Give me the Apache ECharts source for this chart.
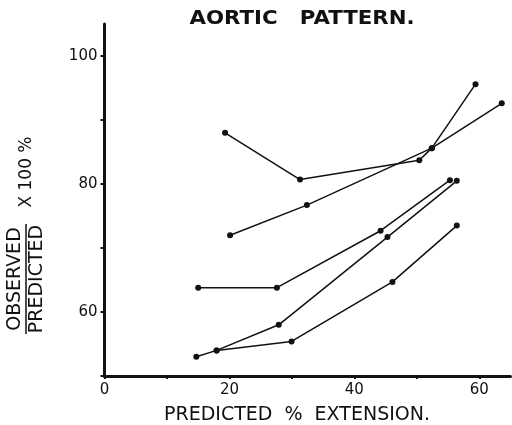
<!DOCTYPE html>
<html>
<head>
<meta charset="utf-8">
<script src="https://cdn.jsdelivr.net/npm/echarts@6/dist/echarts.min.js"></script>
<style>
  html, body { margin: 0; padding: 0; background: #fff; }
  #chart { width: 512px; height: 425px; }
</style>
</head>
<body>
<div id="chart"></div>
<script>
// Predicted % extension (x) vs observed/predicted x 100 % (y), one array per curve
const curveA = [[19.3, 88.0], [31.3, 80.7], [50.4, 83.7], [52.4, 85.6], [59.4, 95.6]];
const curveB = [[20.1, 72.0], [32.4, 76.7], [52.4, 85.6], [63.6, 92.6]];
const curveC = [[15.0, 63.8], [27.6, 63.8], [44.2, 72.7], [55.3, 80.6]];
const curveD = [[14.7, 53.0], [17.95, 54.0], [27.9, 58.0], [45.3, 71.7], [56.4, 80.5]];
const curveE = [[17.95, 54.0], [29.95, 55.4], [46.1, 64.7], [56.4, 73.5]];

const xTickLabels = [0, 20, 40, 60];
const yTickLabels = [60, 80, 100];

const titleText = 'AORTIC   PATTERN.';
const xName = 'PREDICTED  %  EXTENSION.';
const yNameTop = 'OBSERVED';
const yNameBottom = 'PREDICTED';
const yNameFactor = 'X 100 %';

const FONT = 'DejaVu Sans';
const INK = '#111';

const chart = echarts.init(document.getElementById('chart'), null, { renderer: 'canvas' });

function lineSeries(data) {
  return {
    type: 'line',
    data: data,
    symbol: 'circle',
    symbolSize: 6,
    lineStyle: { color: INK, width: 1.5 },
    itemStyle: { color: INK },
    silent: true,
    animation: false
  };
}

chart.setOption({
  backgroundColor: '#fff',
  animation: false,
  grid: { left: 104.5, right: 1.5, top: 24, bottom: 49, containLabel: false },
  xAxis: {
    type: 'value',
    min: 0, max: 65, interval: 10,
    splitLine: { show: false },
    axisLine: { lineStyle: { color: INK, width: 3 } },
    axisTick: { show: true, length: 3, lineStyle: { color: INK, width: 2 } },
    axisLabel: {
      margin: 7,
      color: INK, fontFamily: FONT, fontSize: 15,
      showMaxLabel: false,
      formatter: v => (xTickLabels.indexOf(v) >= 0 ? String(v) : '')
    }
  },
  yAxis: {
    type: 'value',
    min: 50, max: 105, interval: 10,
    splitLine: { show: false },
    axisLine: { onZero: false, lineStyle: { color: INK, width: 3 } },
    axisTick: { show: true, length: 4, lineStyle: { color: INK, width: 2 } },
    axisLabel: {
      margin: 7,
      color: INK, fontFamily: FONT, fontSize: 15,
      showMaxLabel: false,
      formatter: v => (yTickLabels.indexOf(v) >= 0 ? String(v) : '')
    }
  },
  series: [curveA, curveB, curveC, curveD, curveE].map(lineSeries),
  graphic: [
    {
      type: 'text',
      x: 302, y: 19,
      scaleX: 1.12,
      style: {
        text: titleText,
        font: 'bold 19px "' + FONT + '"',
        fill: INK,
        align: 'center', verticalAlign: 'middle'
      }
    },
    {
      type: 'text',
      x: 297, y: 415,
      style: {
        text: xName,
        font: '19px "' + FONT + '"',
        fill: INK,
        align: 'center', verticalAlign: 'middle'
      }
    },
    {
      type: 'group',
      x: 26, y: 279,
      rotation: Math.PI / 2,
      children: [
        {
          type: 'text',
          x: 0, y: -1,
          style: {
            text: yNameTop,
            font: '19px "' + FONT + '"',
            fill: INK,
            align: 'center', verticalAlign: 'bottom'
          }
        },
        {
          type: 'line',
          shape: { x1: -55, y1: 0, x2: 55, y2: 0 },
          style: { stroke: INK, lineWidth: 1.5 }
        },
        {
          type: 'text',
          x: 0, y: 2,
          style: {
            text: yNameBottom,
            font: '19px "' + FONT + '"',
            fill: INK,
            align: 'center', verticalAlign: 'top'
          }
        },
        {
          type: 'text',
          x: 107, y: 1,
          style: {
            text: yNameFactor,
            font: '17px "' + FONT + '"',
            fill: INK,
            align: 'center', verticalAlign: 'middle'
          }
        }
      ]
    }
  ]
});
</script>
</body>
</html>
